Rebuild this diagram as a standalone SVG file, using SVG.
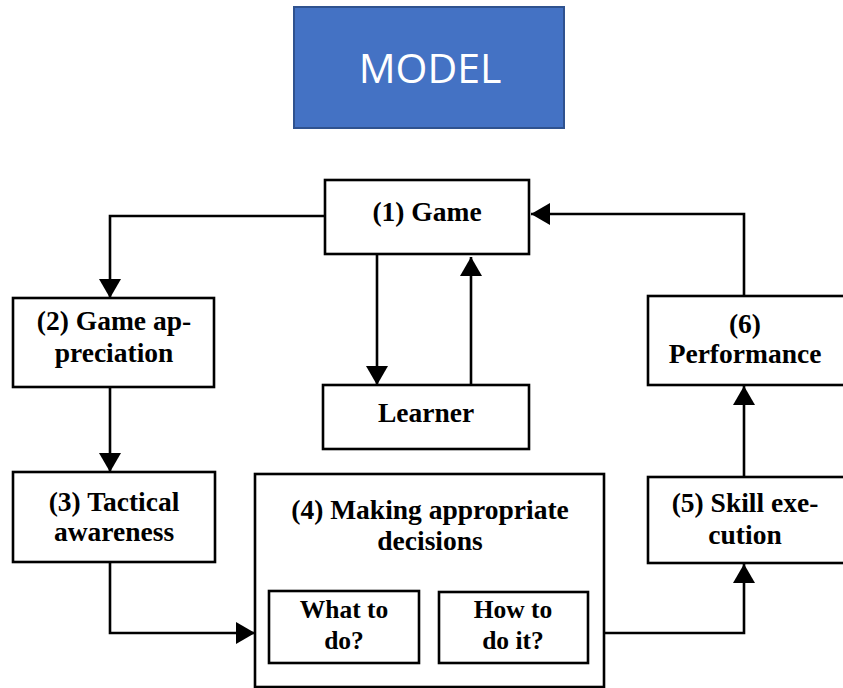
<svg xmlns="http://www.w3.org/2000/svg" width="843" height="688" viewBox="0 0 843 688">
<style>
.box{fill:#fff;stroke:#000;stroke-width:2.6}
.t{font-family:"Liberation Serif","Times New Roman",serif;font-weight:bold;font-size:27.5px;fill:#000;text-anchor:middle}
.s{font-size:25.5px}
.c{fill:none;stroke:#000;stroke-width:2.6}
</style>
<defs>
<marker id="ah" markerUnits="userSpaceOnUse" markerWidth="20" markerHeight="24" refX="19" refY="11" orient="auto">
<path d="M0,0 L19,11 L0,22 z" fill="#000"/>
</marker>
</defs>
<rect width="843" height="688" fill="#fff"/>
<g id="title">
<rect x="294" y="7" width="270" height="121" fill="#4472C4" stroke="#2F528F" stroke-width="2"/>
<text x="430" y="83" font-family="'Open Sans','Liberation Sans',sans-serif" font-size="41" fill="#fff" text-anchor="middle">MODEL</text>
</g>
<g id="n1">
<rect class="box" x="325" y="180" width="204" height="74"/>
<text class="t" x="427" y="221">(1) Game</text>
</g>
<g id="learner">
<rect class="box" x="323" y="385" width="206" height="64"/>
<text class="t" x="426" y="422">Learner</text>
</g>
<g id="n2">
<rect class="box" x="13" y="298" width="201" height="89"/>
<text class="t" x="114" y="330">(2) Game ap-</text>
<text class="t" x="114" y="362">preciation</text>
</g>
<g id="n3">
<rect class="box" x="13" y="472" width="202" height="90"/>
<text class="t" x="114" y="511">(3) Tactical</text>
<text class="t" x="114" y="541">awareness</text>
</g>
<g id="n4">
<rect class="box" x="255" y="474" width="349" height="213"/>
<text class="t" x="430" y="519">(4) Making appropriate</text>
<text class="t" x="430" y="550">decisions</text>
<g id="n4a">
<rect class="box" x="269" y="591" width="150" height="72"/>
<text class="t s" x="344" y="618">What to</text>
<text class="t s" x="344" y="649">do?</text>
</g>
<g id="n4b">
<rect class="box" x="439" y="592" width="149" height="71"/>
<text class="t s" x="513" y="618">How to</text>
<text class="t s" x="513" y="649">do it?</text>
</g>
</g>
<g id="n5">
<rect class="box" x="648" y="477" width="197" height="86"/>
<text class="t" x="745" y="512">(5) Skill exe-</text>
<text class="t" x="745" y="544">cution</text>
</g>
<g id="n6">
<rect class="box" x="648" y="296" width="197" height="89"/>
<text class="t" x="745" y="333">(6)</text>
<text class="t" x="745" y="363">Performance</text>
</g>
<g id="connectors">
<path class="c" d="M325,216 H110 V298" marker-end="url(#ah)"/>
<path class="c" d="M110,387 V472" marker-end="url(#ah)"/>
<path class="c" d="M110,562 V633 H255" marker-end="url(#ah)"/>
<path class="c" d="M604,633 H744 V564" marker-end="url(#ah)"/>
<path class="c" d="M744,477 V386" marker-end="url(#ah)"/>
<path class="c" d="M744,296 V214 H531" marker-end="url(#ah)"/>
<path class="c" d="M377,254 V385" marker-end="url(#ah)"/>
<path class="c" d="M471,385 V257" marker-end="url(#ah)"/>
</g>
</svg>
